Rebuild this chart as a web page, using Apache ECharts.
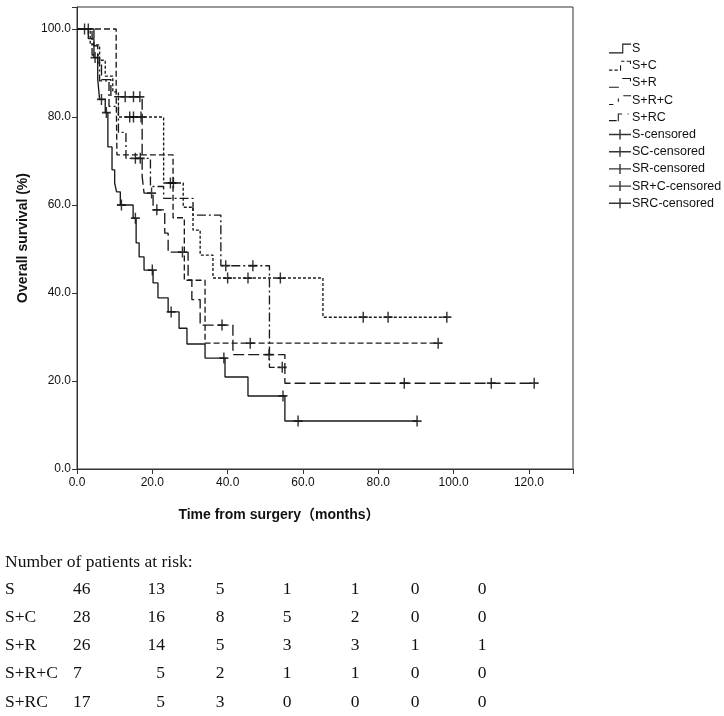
<!DOCTYPE html>
<html>
<head>
<meta charset="utf-8">
<style>
  html, body { margin: 0; padding: 0; background: #fff; }
  #main { width: 724px; height: 716px; }
</style>
</head>
<body>
<div id="main"></div>
<script src="https://cdn.jsdelivr.net/npm/echarts@6/dist/echarts.min.js"></script>
<script>
// ---- Kaplan-Meier curves: time of each drop (months) and survival (%) after it ----
var sTime  = [0, 3, 4.5, 5.5, 6, 7.5, 8.2, 9.3, 10, 10.5, 11.5, 14.9, 15.7, 16.5, 17.8, 20.2, 21.5, 24.2, 27.1, 29.2, 34, 39.3, 45.4, 55.2];
var sSurv  = [100, 97.8, 93.5, 88.6, 84, 81, 73.2, 68, 65, 63, 60, 57, 51.4, 48.2, 45.2, 42.3, 38.9, 35.7, 32, 28.4, 25.2, 20.9, 16.6, 10.9];
var sCens  = [2, 4.8, 6.5, 7.8, 11.8, 15.5, 20, 25, 39, 54.7, 58.7, 90.3];

var scTime = [0, 3.5, 6, 7.5, 9.5, 11, 23, 28.2, 30.8, 32.7, 36.1, 65.3];
var scSurv = [100, 96.4, 92.9, 89.3, 85.7, 80, 65, 59.5, 54.3, 48.6, 43.4, 34.5];
var scCens = [14, 15, 17, 24.8, 25.6, 40, 45.4, 54, 76, 82.6, 98.2];

var srTime = [0, 4.5, 5.5, 6.5, 9, 17.3, 17.8, 20.2, 23.3, 24.2, 29.5, 30.5, 32.7, 41.4, 55.2];
var srSurv = [100, 96.2, 92.3, 88.5, 84.6, 66.5, 62.7, 58.9, 53.6, 49.3, 43, 38.5, 32.7, 26, 19.5];
var srCens = [3, 12.8, 15, 16.7, 19.8, 21.2, 28, 38.5, 51, 86.9, 110, 121.4];

var srcTime = [0, 10.4, 10.6, 25.5, 28.5, 34];
var srcSurv = [100, 85.7, 71.4, 57.1, 42.9, 28.6];
var srcCens = [46, 95.9];

var rcTime = [0, 4, 6, 8.5, 11, 13, 19.5, 23, 30.8, 38.2, 51.1];
var rcSurv = [100, 94.1, 88.2, 82.4, 76.5, 70.6, 64.2, 61.5, 57.7, 46.2, 23.1];
var rcCens = [15.5, 16.8, 39.5, 46.7, 54.5];

// ---- number at risk table ----
var riskTimes = [0, 20, 40, 60, 80, 100, 120];
var riskGroups = ['S', 'S+C', 'S+R', 'S+R+C', 'S+RC'];
var riskS   = [46, 13, 5, 1, 1, 0, 0];
var riskSC  = [28, 16, 8, 5, 2, 0, 0];
var riskSR  = [26, 14, 5, 3, 3, 1, 1];
var riskSRC = [7, 5, 2, 1, 1, 0, 0];
var riskRC  = [17, 5, 3, 0, 0, 0, 0];

var curveNames  = ['S', 'S+C', 'S+R', 'S+R+C', 'S+RC'];
var censorNames = ['S-censored', 'SC-censored', 'SR-censored', 'SR+C-censored', 'SRC-censored'];

var curves = [
  { t: sTime, s: sSurv, c: sCens, dash: 'solid' },
  { t: scTime, s: scSurv, c: scCens, dash: [3, 2] },
  { t: srTime, s: srSurv, c: srCens, dash: [11, 4] },
  { t: srcTime, s: srcSurv, c: srcCens, dash: [6, 3] },
  { t: rcTime, s: rcSurv, c: rcCens, dash: [9, 3, 2, 3] }
];

function survAt(times, survs, t) {
  var v = survs[0];
  for (var i = 0; i < times.length; i++) {
    if (times[i] <= t) v = survs[i];
  }
  return v;
}

var ink = '#1a1a1a';
var plus = 'path://M0,4.2H10V5.8H0Z M4.2,0H5.8V10H4.2Z';
var plusWide = 'path://M0,4.3H22V5.7H0Z M10.3,0H11.7V10H10.3Z';

var series = [];
curves.forEach(function (cv, i) {
  var pts = cv.t.map(function (t, k) { return [t, cv.s[k]]; });
  var end = cv.c[cv.c.length - 1];
  pts.push([end, cv.s[cv.s.length - 1]]);
  series.push({
    name: curveNames[i],
    type: 'line',
    step: 'end',
    data: pts,
    showSymbol: false,
    animation: false,
    lineStyle: { color: ink, width: 1.35, type: cv.dash },
    itemStyle: { color: ink }
  });
});
curves.forEach(function (cv, i) {
  series.push({
    name: censorNames[i],
    type: 'scatter',
    data: cv.c.map(function (t) { return [t, survAt(cv.t, cv.s, t)]; }),
    symbol: plus,
    symbolSize: [9, 11],
    animation: false,
    itemStyle: { color: '#000' }
  });
});

// legend glyphs (small step shapes)
var legendIcons = [
  'path://M0,9H12V1H20V2H13V10H0Z',
  'path://M0,9H3V10H0Z M5,9H8V10H5Z M10,5H11V10H10Z M11,1H14V2H11Z M16,1H19V2H16Z M19,1H20V4H19Z',
  'path://M0,9H9V10H0Z M12,1H20V2H12Z M19,1H20V4H19Z',
  'path://M0,9H4V10H0Z M8,4H9V7H8Z M13,1H20V2H13Z',
  'path://M0,9H7V10H0Z M8,3H9V10H8Z M9,3H12V4H9Z M17,3H18V4H17Z M20,3H20.1V3.1H20Z',
  plusWide, plusWide, plusWide, plusWide, plusWide
];
var legendData = curveNames.concat(censorNames).map(function (n, i) {
  return { name: n, icon: legendIcons[i] };
});

var tableFont = '17.5px "Liberation Serif", "Times New Roman", serif';
var riskRows = [riskS, riskSC, riskSR, riskSRC, riskRC];
var colX = [73, 165, 220, 287, 355, 415, 482];
var colAlign = ['left', 'right', 'center', 'center', 'center', 'center', 'center'];
var graphics = [
  {
    type: 'text', x: 279, y: 515,
    style: {
      text: 'Time from surgery（months）',
      font: 'bold 14px "Liberation Sans", "Noto Sans CJK SC", sans-serif',
      fill: '#111', align: 'center', verticalAlign: 'middle'
    }
  },
  {
    type: 'text', x: 5, y: 562,
    style: { text: 'Number of patients at risk:', font: tableFont, fill: '#111', verticalAlign: 'middle' }
  }
];
riskRows.forEach(function (row, r) {
  var y = 589 + r * 28.3;
  graphics.push({
    type: 'text', x: 5, y: y,
    style: { text: riskGroups[r], font: tableFont, fill: '#111', verticalAlign: 'middle' }
  });
  row.forEach(function (v, c) {
    graphics.push({
      type: 'text', x: colX[c], y: y,
      style: { text: String(v), font: tableFont, fill: '#111', align: colAlign[c], verticalAlign: 'middle' }
    });
  });
});

var chart = echarts.init(document.getElementById('main'));
chart.setOption({
  backgroundColor: '#fff',
  animation: false,
  grid: { left: 77, top: 7, right: 151, bottom: 247, show: true, borderColor: '#333', borderWidth: 1, backgroundColor: 'transparent' },
  legend: {
    orient: 'vertical', left: 604, top: 37,
    itemWidth: 22, itemHeight: 10, itemGap: 4.2,
    data: legendData,
    selectedMode: false,
    textStyle: { fontFamily: '"Liberation Sans", Arial, sans-serif', fontSize: 12.5, color: '#111', padding: [0, 0, 0, -4] }
  },
  xAxis: {
    type: 'value', min: 0, max: 131.7, interval: 20,
    axisLine: { show: true, lineStyle: { color: '#333' } },
    axisTick: { show: true, length: 5, lineStyle: { color: '#333' } },
    splitLine: { show: false },
    axisLabel: {
      color: '#111', fontSize: 12, fontFamily: '"Liberation Sans", Arial, sans-serif', margin: 8,
      formatter: function (v) { return v % 20 === 0 ? v.toFixed(1) : ''; }
    }
  },
  yAxis: {
    type: 'value', min: 0, max: 105, interval: 20,
    name: 'Overall survival (%)', nameLocation: 'middle', nameGap: 47,
    nameTextStyle: { fontFamily: '"Liberation Sans", Arial, sans-serif', fontSize: 14, fontWeight: 'bold', color: '#111' },
    axisLine: { show: true, lineStyle: { color: '#333' } },
    axisTick: { show: true, length: 5, lineStyle: { color: '#333' } },
    splitLine: { show: false },
    axisLabel: {
      color: '#111', fontSize: 12, fontFamily: '"Liberation Sans", Arial, sans-serif', margin: 6,
      formatter: function (v) { return v % 20 === 0 ? v.toFixed(1) : ''; }
    }
  },
  series: series,
  graphic: graphics
});
</script>
</body>
</html>
